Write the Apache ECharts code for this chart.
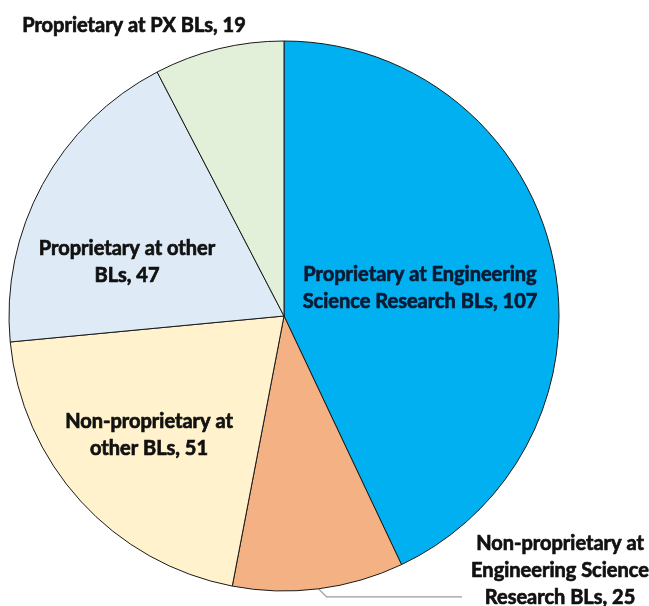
<!DOCTYPE html>
<html>
<head>
<meta charset="utf-8">
<script src="https://cdn.jsdelivr.net/npm/echarts@6/dist/echarts.min.js"></script>
<style>
html,body{margin:0;padding:0;background:#fff;}
#chart{width:649px;height:606px;}
</style>
</head>
<body>
<div id="chart"></div>
<script>
const categories = [
  "Proprietary at Engineering\nScience Research BLs",
  "Non-proprietary at\nEngineering Science\nResearch BLs",
  "Non-proprietary at\nother BLs",
  "Proprietary at other\nBLs",
  "Proprietary at PX BLs"
];
const values = [107, 25, 51, 47, 19];
const colors = ["#00B0F0", "#F4B183", "#FFF2CC", "#DEEBF7", "#E2F0D9"];
const textColors = ["#0b1a33", "#111111", "#111111", "#111111", "#111111"];

// label centres (pixels) for each slice, in slice order
const labelPos = [[420, 288], [560, 571], [149, 435], [127, 262], [134, 26]];

const chart = echarts.init(document.getElementById('chart'), null, {renderer: 'canvas'});
const data = categories.map((c, i) => {
  const item = {
    name: c, value: values[i],
    itemStyle: {color: colors[i]},
    label: {color: textColors[i], textBorderColor: textColors[i]}
  };
  if (i === 1) {
    item.label.position = 'outside';
    item.labelLine = {show: true, length: 4, length2: 120, smooth: false,
      lineStyle: {color: '#9a9a9a', width: 1.2}};
  } else if (i === 4) {
    item.label.position = 'outside';
    item.labelLine = {show: false};
  }
  return item;
});

chart.setOption({
  animation: false,
  backgroundColor: '#ffffff',
  series: [{
    type: 'pie',
    center: [284, 316],
    radius: 275,
    startAngle: 90,
    clockwise: true,
    avoidLabelOverlap: false,
    silent: true,
    data: data,
    itemStyle: {borderColor: '#1a1a1a', borderWidth: 1},
    label: {
      show: true,
      position: 'inside',
      formatter: p => p.name + ', ' + p.value,
      fontFamily: 'Lato',
      fontWeight: 'bold',
      fontSize: 20,
      lineHeight: 27,
      textBorderWidth: 0.7,
      align: 'center'
    },
    labelLine: {show: false},
    labelLayout: function (params) {
      const pos = labelPos[params.dataIndex];
      const out = {x: pos[0], y: pos[1], align: 'center', verticalAlign: 'middle'};
      if (params.dataIndex === 1 && params.labelLinePoints) {
        const s = params.labelLinePoints[0];
        const yLine = s[1] + 8;
        out.labelLinePoints = [s, [s[0] + 8, yLine], [pos[0] - 98, yLine]];
      }
      return out;
    }
  }]
});
</script>
</body>
</html>
